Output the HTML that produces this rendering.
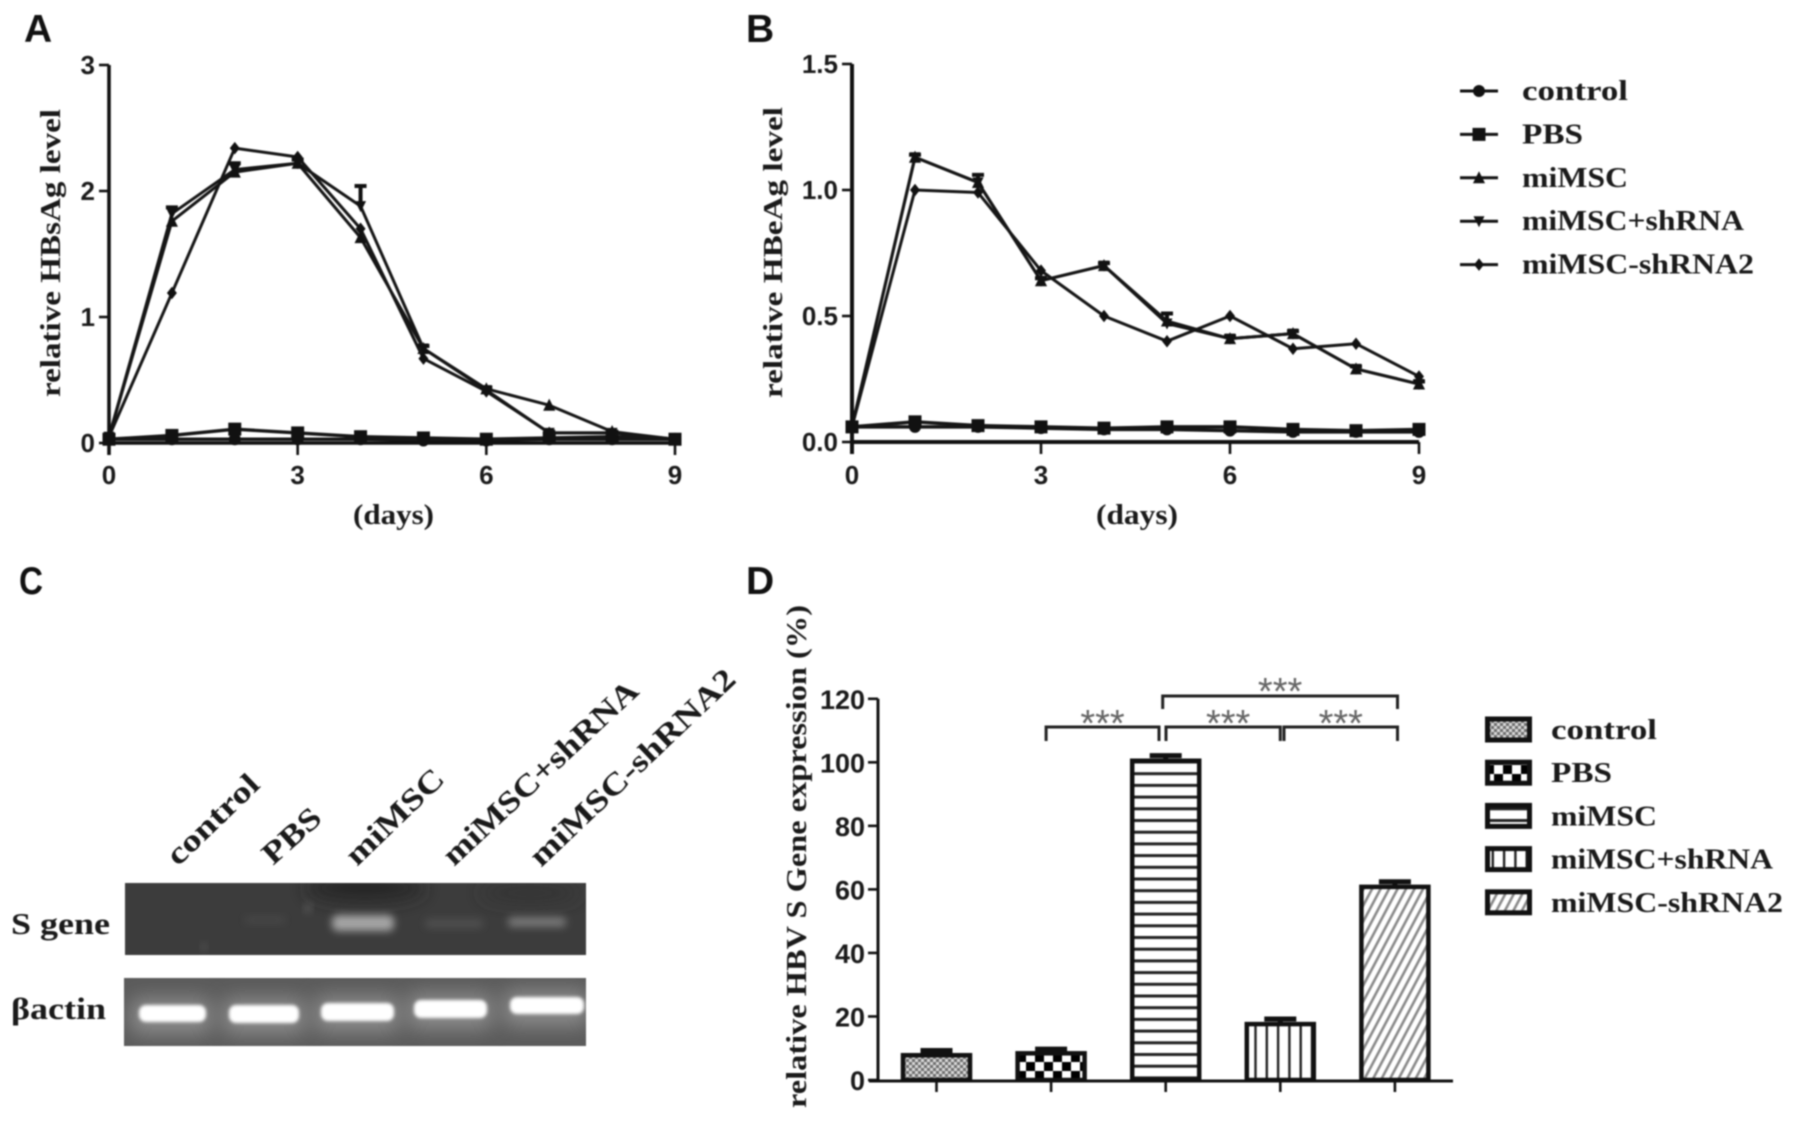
<!DOCTYPE html>
<html lang="en">
<head>
<meta charset="utf-8">
<title>HBV figure panels</title>
<style>
html,body{margin:0;padding:0;background:#fff;width:1795px;height:1121px;overflow:hidden}
svg{display:block;filter:blur(0.8px)}
.serif{font-family:"Liberation Serif",serif;font-weight:bold;fill:#1a1a1a}
.sans{font-family:"Liberation Sans",sans-serif;font-weight:bold;fill:#1a1a1a}
</style>
</head>
<body>
<svg id="fig" xmlns="http://www.w3.org/2000/svg" width="1795" height="1121" viewBox="0 0 1795 1121">
<defs>
<pattern id="p-control" width="6" height="6" patternUnits="userSpaceOnUse"><rect width="6" height="6" fill="#6e6e6e"/><rect width="3" height="3" fill="#d8d8d8"/><rect x="3" y="3" width="3" height="3" fill="#d8d8d8"/></pattern>
<pattern id="p-pbs" width="18" height="18" patternUnits="userSpaceOnUse"><rect width="18" height="18" fill="#fff"/><rect width="9" height="9" fill="#000"/><rect x="9" y="9" width="9" height="9" fill="#000"/></pattern>
<pattern id="p-mimsc" width="12" height="11.7" patternUnits="userSpaceOnUse"><rect width="12" height="11.7" fill="#fff"/><rect y="0" width="12" height="3" fill="#222"/></pattern>
<pattern id="p-shrna" width="11.3" height="12" patternUnits="userSpaceOnUse"><rect width="11.3" height="12" fill="#fff"/><rect width="2.4" height="12" fill="#222"/></pattern>
<pattern id="p-shrna2" width="7.5" height="7.5" patternUnits="userSpaceOnUse" patternTransform="rotate(-62)"><rect width="7.5" height="7.5" fill="#fff"/><rect width="7.5" height="2.6" fill="#8a8a8a"/></pattern>
<filter id="b15" x="-10%" y="-30%" width="120%" height="160%"><feGaussianBlur stdDeviation="1.5"/></filter>
<filter id="b4" x="-30%" y="-80%" width="160%" height="260%"><feGaussianBlur stdDeviation="4"/></filter>
<filter id="b8" x="-40%" y="-150%" width="180%" height="400%"><feGaussianBlur stdDeviation="9"/></filter>
<filter id="b12" x="-50%" y="-100%" width="200%" height="300%"><feGaussianBlur stdDeviation="10"/></filter>
<clipPath id="gel-top-clip"><rect x="125" y="883" width="461" height="72"/></clipPath>
<clipPath id="gel-bot-clip"><rect x="124" y="978" width="462" height="68"/></clipPath>
</defs>

<text class="sans" x="24" y="42" font-size="39" style="fill:#111">A</text>
<text class="sans" x="746" y="42" font-size="39" style="fill:#111">B</text>
<text class="sans" x="19" y="594" font-size="39" textLength="24" lengthAdjust="spacingAndGlyphs" style="fill:#111">C</text>
<text class="sans" x="746" y="594" font-size="39" style="fill:#111">D</text>

<text class="serif" transform="translate(60,397) rotate(-90)" font-size="29" textLength="288" lengthAdjust="spacingAndGlyphs">relative HBsAg level</text>
<text class="serif" x="353" y="524" font-size="29" textLength="81" lengthAdjust="spacingAndGlyphs">(days)</text>
<text class="serif" transform="translate(782,398) rotate(-90)" font-size="27" textLength="291" lengthAdjust="spacingAndGlyphs">relative HBeAg level</text>
<text class="serif" x="1096" y="524" font-size="29" textLength="82" lengthAdjust="spacingAndGlyphs">(days)</text>
<text class="serif" transform="translate(806,1108) rotate(-90)" font-size="28" textLength="503" lengthAdjust="spacingAndGlyphs">relative HBV S Gene expression (%)</text>

<g id="panel-a"></g>
<g id="panel-b"></g>
<g id="legend-top"></g>
<g id="panel-d"></g>
<g id="legend-d"></g>

<g clip-path="url(#gel-top-clip)">
  <rect x="125" y="883" width="461" height="72" fill="#3c3c3c"/>
  <ellipse cx="365" cy="888" rx="60" ry="14" fill="#262626" filter="url(#b8)"/>
  <ellipse cx="530" cy="893" rx="50" ry="8" fill="#303030" filter="url(#b8)"/>
  <rect x="332" y="915" width="62" height="16" rx="6" fill="#a4a4a4" filter="url(#b4)"/>
  <rect x="508" y="917" width="58" height="10" rx="4" fill="#777" filter="url(#b4)"/>
  <rect x="425" y="919" width="58" height="9" rx="4" fill="#505050" filter="url(#b4)"/>
  <rect x="245" y="917" width="40" height="6" rx="3" fill="#4a4a4a" filter="url(#b4)"/>
  <circle cx="308" cy="908" r="4" fill="#5c5c5c" filter="url(#b4)"/>
  <circle cx="204" cy="947" r="3" fill="#5a5a5a" filter="url(#b4)"/>
</g>
<g clip-path="url(#gel-bot-clip)">
  <rect x="124" y="978" width="462" height="68" fill="#5a5a5a"/>
  <rect x="130" y="998" width="82" height="36" rx="10" fill="#8c8c8c" filter="url(#b12)"/>
  <rect x="222" y="998" width="84" height="36" rx="10" fill="#8c8c8c" filter="url(#b12)"/>
  <rect x="314" y="996" width="86" height="36" rx="10" fill="#8c8c8c" filter="url(#b12)"/>
  <rect x="407" y="993" width="86" height="36" rx="10" fill="#8c8c8c" filter="url(#b12)"/>
  <rect x="503" y="990" width="86" height="36" rx="10" fill="#8c8c8c" filter="url(#b12)"/>
  <rect x="139" y="1005" width="67" height="17" rx="7" fill="#fff" filter="url(#b15)"/>
  <rect x="229" y="1005" width="70" height="18" rx="7" fill="#fff" filter="url(#b15)"/>
  <rect x="321" y="1003" width="73" height="18" rx="7" fill="#fff" filter="url(#b15)"/>
  <rect x="414" y="1000" width="73" height="18" rx="7" fill="#fff" filter="url(#b15)"/>
  <rect x="510" y="997" width="74" height="17" rx="7" fill="#fff" filter="url(#b15)"/>
</g>
<text class="serif" x="11" y="934" font-size="31" textLength="99" lengthAdjust="spacingAndGlyphs">S gene</text>
<text class="serif" x="11" y="1019" font-size="31" textLength="95" lengthAdjust="spacingAndGlyphs">βactin</text>
<text class="serif" transform="translate(178,867) rotate(-44)" font-size="31" textLength="116" lengthAdjust="spacingAndGlyphs">control</text>
<text class="serif" transform="translate(273,866) rotate(-42)" font-size="31" textLength="68" lengthAdjust="spacingAndGlyphs">PBS</text>
<text class="serif" transform="translate(357,867) rotate(-44)" font-size="31" textLength="124" lengthAdjust="spacingAndGlyphs">miMSC</text>
<text class="serif" transform="translate(454,867) rotate(-43)" font-size="31" textLength="255" lengthAdjust="spacingAndGlyphs">miMSC+shRNA</text>
<text class="serif" transform="translate(541,868) rotate(-43.5)" font-size="31" textLength="271" lengthAdjust="spacingAndGlyphs">miMSC-shRNA2</text>
</svg>

<script>
// ---------- data ----------
const days = [0,1,2,3,4,5,6,7,8,9];
const xTickLabels = ["0","3","6","9"];
const xTickValues = [0,3,6,9];

const aYTicks = [0,1,2,3];
const aControl = [0.03,0.03,0.03,0.03,0.03,0.02,0.02,0.03,0.03,0.03];
const aPBS     = [0.03,0.06,0.11,0.08,0.05,0.04,0.03,0.04,0.05,0.03];
const aMiMSC   = [0.05,1.76,2.15,2.22,1.63,0.75,0.43,0.30,0.09,0.03];
const aShRNA   = [0.05,1.82,2.17,2.22,1.88,0.75,0.42,0.08,0.08,0.03];
const aShRNA2  = [0.05,1.19,2.34,2.27,1.70,0.67,0.41,0.08,0.08,0.03];
const aShRNAErr = [0,0.05,0.05,0.03,0.16,0.02,0.02,0.01,0.01,0.01];

const bYTicks = [0,0.5,1,1.5];
const bYTickLabels = ["0.0","0.5","1.0","1.5"];
const bControl = [0.06,0.06,0.06,0.055,0.05,0.05,0.045,0.04,0.04,0.04];
const bPBS     = [0.06,0.08,0.065,0.06,0.055,0.06,0.06,0.05,0.045,0.05];
const bMiMSC   = [0.06,1.13,1.03,0.64,0.70,0.48,0.41,0.43,0.29,0.23];
const bShRNA   = [0.06,1.13,1.03,0.64,0.70,0.47,0.41,0.43,0.29,0.23];
const bShRNA2  = [0.06,1.00,0.99,0.68,0.50,0.40,0.50,0.37,0.39,0.26];
const bShRNAErr = [0,0.01,0.03,0.01,0.01,0.04,0.01,0.01,0.01,0.01];

const groups = ["control","PBS","miMSC","miMSC+shRNA","miMSC-shRNA2"];
const dValues = [7.8,8.4,100.5,17.6,60.8];
const dErrors = [1.5,1.3,1.6,1.6,1.6];
const dYTicks = [0,20,40,60,80,100,120];

// ---------- helpers ----------
const NS = "http://www.w3.org/2000/svg";
function el(parent, tag, attrs, text){
  const n = document.createElementNS(NS, tag);
  for (const k in attrs) n.setAttribute(k, attrs[k]);
  if (text !== undefined) n.textContent = text;
  parent.appendChild(n);
  return n;
}
function markerPath(kind, x, y, r){
  if (kind === "circle") return `M${x-r} ${y}a${r} ${r} 0 1 0 ${2*r} 0a${r} ${r} 0 1 0 ${-2*r} 0Z`;
  if (kind === "square") return `M${x-r} ${y-r}h${2*r}v${2*r}h${-2*r}Z`;
  if (kind === "up") return `M${x} ${y-r*1.2}L${x+r*1.1} ${y+r}H${x-r*1.1}Z`;
  if (kind === "down") return `M${x} ${y+r*1.2}L${x+r*1.1} ${y-r}H${x-r*1.1}Z`;
  return `M${x} ${y-r*1.25}L${x+r} ${y}L${x} ${y+r*1.25}L${x-r} ${y}Z`;
}
const seriesKinds = ["circle","square","up","down","diamond"];
const seriesRadius = [6,6.5,5.5,5,5];
const drawOrder = [0,1,3,2,4];

function drawLineChart(root, opt){
  const sx = v => opt.x0 + (opt.x1 - opt.x0) * v / 9;
  const sy = v => opt.y0 + (opt.yTop - opt.y0) * v / opt.yMax;

  drawOrder.forEach(i => {
    const vals = opt.series[i];
    const d = vals.map((v, k) => (k ? "L" : "M") + sx(days[k]) + " " + sy(v)).join("");
    const line = el(root, "path", {d: d, fill: "none", stroke: "#161616", "stroke-width": i < 2 ? 3.4 : 3, "stroke-linejoin": "round"});
    
    
    vals.forEach((v, k) => {
      const m = el(root, "path", {d: markerPath(seriesKinds[i], sx(days[k]), sy(v), seriesRadius[i]), fill: "#111"});
      
      
    });
  });
  if (opt.err) {
    opt.err.values.forEach((e, k) => {
      if (!e) return;
      const x = sx(days[k]);
      const yv = opt.err.series[k];
      const eb = el(root, "path", {d: `M${x} ${sy(yv)}V${sy(yv + e)}M${x-6} ${sy(yv + e)}H${x+6}`, fill: "none", stroke: "#111", "stroke-width": 4});
      
      
    });
  }
  const axes = el(root, "path", {d: `M${opt.x0} ${sy(opt.yMax)}V${opt.y0+12}M${opt.x0} ${opt.y0}H${opt.x1}`, fill: "none", stroke: "#111", "stroke-width": opt.axisW});
  
  
  opt.yTicks.forEach((t, i) => {
    const tick = el(root, "line", {x1: opt.x0 - 10, x2: opt.x0, y1: sy(t), y2: sy(t), stroke: "#111", "stroke-width": 2.6});
    
    
    const label = el(root, "text", {x: opt.x0 - 14, y: sy(t) + 9, "text-anchor": "end", "font-size": 26, "class": "sans"}, opt.yLabels[i]);
    
    
  });
  xTickValues.forEach((t, i) => {
    const tick = el(root, "line", {x1: sx(t), x2: sx(t), y1: opt.y0, y2: opt.y0 + 12, stroke: "#111", "stroke-width": 2.6});
    
    
    const label = el(root, "text", {x: sx(t), y: 484, "text-anchor": "middle", "font-size": 26, "class": "sans"}, xTickLabels[i]);
    
    
  });
}

// ---------- panels A & B ----------
drawLineChart(document.getElementById("panel-a"), {
  x0: 109, x1: 675, y0: 443, yTop: 65, yMax: 3, axisW: 3.6,
  series: [aControl, aPBS, aMiMSC, aShRNA, aShRNA2],
  err: {series: aShRNA, values: aShRNAErr},
  yTicks: aYTicks, yLabels: aYTicks.map(String)
});
drawLineChart(document.getElementById("panel-b"), {
  x0: 852, x1: 1419, y0: 442, yTop: 64, yMax: 1.5, axisW: 4,
  series: [bControl, bPBS, bMiMSC, bShRNA, bShRNA2],
  err: {series: bShRNA, values: bShRNAErr},
  yTicks: bYTicks, yLabels: bYTickLabels
});

// ---------- top legend ----------
const legendTop = document.getElementById("legend-top");
const legendWidths = [106,61,106,222,232];
groups.forEach((g, i) => {
  const cy = 91 + i * 43.4;
  const ln = el(legendTop, "line", {x1: 1460, x2: 1498, y1: cy, y2: cy, stroke: "#111", "stroke-width": 3});
  
  
  const mk = el(legendTop, "path", {d: markerPath(seriesKinds[i], 1479, cy, seriesRadius[i]), fill: "#111"});
  
  
  const tx = el(legendTop, "text", {x: 1522, y: cy + 9, "font-size": 28, "class": "serif", textLength: legendWidths[i], lengthAdjust: "spacingAndGlyphs"}, g);
  
  
});

// ---------- panel D ----------
const dRoot = document.getElementById("panel-d");
const dy = v => 1080 + (698.8 - 1080) * v / 120;
const dx = i => 936.5 + i * 114.6;
const barW = 67;
const barFills = ["url(#p-control)","url(#p-pbs)","url(#p-mimsc)","url(#p-shrna)","url(#p-shrna2)"];
dValues.forEach((v, i) => {
  const eb = el(dRoot, "path", {d: `M${dx(i)} ${dy(v)}V${dy(v + dErrors[i])}M${dx(i)-16} ${dy(v + dErrors[i])}H${dx(i)+16}`, fill: "none", stroke: "#111", "stroke-width": 5});
  
  
  const bar = el(dRoot, "rect", {x: dx(i) - barW / 2, y: dy(v), width: barW, height: dy(0) - dy(v), fill: barFills[i], stroke: "#111", "stroke-width": 4.5});
  
  
  const tick = el(dRoot, "line", {x1: dx(i), x2: dx(i), y1: 1080, y2: 1092, stroke: "#111", "stroke-width": 2.6});
  
  
});
const dAxes = el(dRoot, "path", {d: `M878 ${dy(120)}V1081M869 1081H1453`, fill: "none", stroke: "#111", "stroke-width": 3});


dYTicks.forEach(t => {
  const tick = el(dRoot, "line", {x1: 868, x2: 878, y1: dy(t), y2: dy(t), stroke: "#111", "stroke-width": 2.6});
  
  
  const label = el(dRoot, "text", {x: 865, y: dy(t) + 10, "text-anchor": "end", "font-size": 27, "class": "sans"}, String(t));
  
  
});

// significance brackets between groups
const bracketFrom = [1,2,3,2];
const bracketTo = [2,3,4,4];
const bracketLevel = [0,0,0,1];
bracketFrom.forEach((a, i) => {
  const b = bracketTo[i];
  const raised = bracketLevel[i] === 1;
  const top = raised ? 696 : 727;
  const xa = dx(a) + (raised ? -3 : (a === 1 ? -5 : (a === 3 ? 3.7 : 0.3)));
  const xb = dx(b) + (b === 4 ? 2.6 : (b === 2 ? -6.7 : 0));
  const drop = raised ? 13 : 14;
  const br = el(dRoot, "path", {d: `M${xa} ${top + drop}V${top}H${xb}V${top + drop}`, fill: "none", stroke: "#222", "stroke-width": 3});
  
  
  const st = el(dRoot, "text", {x: (xa + xb) / 2 + (!raised && a === 2 ? 5 : 0), y: top + (raised ? 8 : 9), "text-anchor": "middle", "font-size": 38, "font-family": "Liberation Sans, sans-serif", fill: "#666"}, "***");
  
  
});

// ---------- panel D legend ----------
const legendD = document.getElementById("legend-d");
const legendDWidths = [106,61,106,222,232];
groups.forEach((g, i) => {
  const top = 719 + i * 43.2;
  const sw = el(legendD, "rect", {x: 1487.5, y: top, width: 42, height: 21, fill: barFills[i], stroke: "#111", "stroke-width": 5});
  
  
  const tx = el(legendD, "text", {x: 1551, y: top + 20, "font-size": 28, "class": "serif", textLength: legendDWidths[i], lengthAdjust: "spacingAndGlyphs"}, g);
  
  
});
</script>
</body>
</html>
